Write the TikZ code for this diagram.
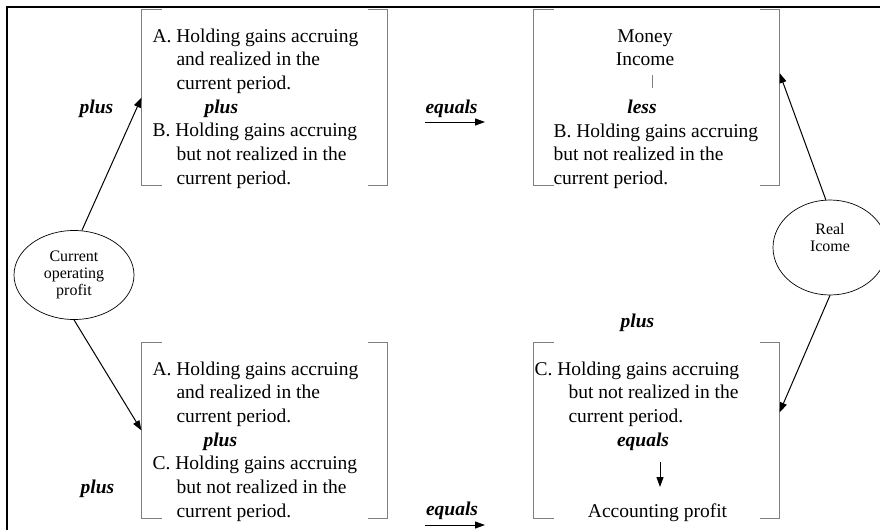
\documentclass[tikz,border=0pt]{standalone}
\usepackage{fontspec}
\setmainfont{Liberation Serif}
\usetikzlibrary{shapes.geometric,arrows.meta}
\tikzset{
  bracket/.style={draw=black!50, line width=1.1pt},
  gainbox/.style={minimum width=245pt, minimum height=175pt, inner sep=0pt},
  txt/.style={inner sep=0pt, font=\fontsize{19.5}{23.7}\selectfont},
  op/.style={inner sep=0pt, font=\fontsize{19.5}{23.7}\selectfont\bfseries\itshape},
  oval/.style={draw, ellipse, line width=0.7pt, inner sep=0pt, align=center, font=\fontsize{16}{17}\selectfont}
}
\newcommand\brackets[1]{%
  \draw[bracket] ([xshift=20pt]#1.north west) -| (#1.south west) -- ++(20,0);
  \draw[bracket] ([xshift=-20pt]#1.north east) -| (#1.south east) -- ++(-20,0);}
\begin{document}
\begin{tikzpicture}[x=1pt, y=-1pt, line width=1pt, >={Triangle[length=10pt,width=7pt]}]
  \useasboundingbox (0,0) rectangle (880,530);
  \draw[line width=2.5pt] (7,530) -- (7,7) -- (880,7);

  \node[gainbox] (tl) at (264.5,97.5) {};
  \node[gainbox] (tr) at (656.5,97.5) {};
  \node[gainbox] (bl) at (264.5,430.5) {};
  \node[gainbox] (br) at (656.5,430.5) {};
  \foreach \b in {tl,tr,bl,br} {\brackets{\b}}

  \node[oval, minimum width=120pt, minimum height=89pt] (cop) at (74,275) {Current\\operating\\profit};
  \node[oval, minimum width=114pt, minimum height=95pt] (ri) at (830,247.5) {};
  \node[inner sep=0pt, align=center, font=\fontsize{16}{17}\selectfont] (rilbl) at ([yshift=10pt]ri.center) {Real\\Icome};

  \node[txt, anchor=base west] (tlA) at (152,42) {\begin{tabular}[t]{@{}l@{}}
    A. Holding gains accruing\\ \hspace*{24pt}and realized in the\\ \hspace*{24pt}current period.\\
    \hspace*{52pt}\textbf{\textit{plus}}\\
    B. Holding gains accruing\\ \hspace*{24pt}but not realized in the\\ \hspace*{24pt}current period.\end{tabular}};
  \node[txt, anchor=base west] (blA) at (152,375) {\begin{tabular}[t]{@{}l@{}}
    A. Holding gains accruing\\ \hspace*{24pt}and realized in the\\ \hspace*{24pt}current period.\\
    \hspace*{51pt}\textbf{\textit{plus}}\\
    C. Holding gains accruing\\ \hspace*{24pt}but not realized in the\\ \hspace*{24pt}current period.\end{tabular}};

  \node[txt, anchor=base] (money) at (645,42) {\begin{tabular}[t]{@{}c@{}}Money\\Income\end{tabular}};
  \draw[bracket, line width=0.9pt] (652,75) -- (652,88);
  \node[op, anchor=base] (less) at (642,113) {less};
  \node[txt, anchor=base west] (trB) at (553,137) {\begin{tabular}[t]{@{}l@{}}
    B. Holding gains accruing\\ but not realized in the\\ current period.\end{tabular}};

  \node[op, anchor=base] (plusbr) at (637.5,327) {plus};
  \node[txt, anchor=base west] (brC) at (534,375) {\begin{tabular}[t]{@{}l@{}}
    C. Holding gains accruing\\ \hspace*{34pt}but not realized in the\\ \hspace*{34pt}current period.\end{tabular}};
  \node[op, anchor=base] (eqbr) at (643,446) {equals};
  \node[txt, anchor=base] (acc) at (657.5,517) {Accounting profit};
  \coordinate (dn1) at (660,462);
  \coordinate (dn2) at (660,487);
  \draw[->] (dn1) -- (dn2);

  \node[op, anchor=base] (plustop) at (96.5,113) {plus};
  \node[op, anchor=base] (plusbot) at (97.5,493) {plus};
  \node[op, anchor=base] (eqtop) at (451.5,113) {equals};
  \node[op, anchor=base] (eqbot) at (452,515) {equals};
  \coordinate (eqt1) at (425,122);
  \coordinate (eqt2) at (485,122);
  \coordinate (eqb1) at (425,525);
  \coordinate (eqb2) at (485,525);
  \draw[->] (eqt1) -- (eqt2);
  \draw[->] (eqb1) -- (eqb2);

  \draw[->] (cop.80) -- (tl.west);
  \draw[->] (cop.south) -- (bl.west);
  \draw[->] (ri.95) -- ([yshift=24.5pt]tr.east);
  \draw[->] (ri.south) -- ([yshift=18pt]br.east);
\end{tikzpicture}
\end{document}
